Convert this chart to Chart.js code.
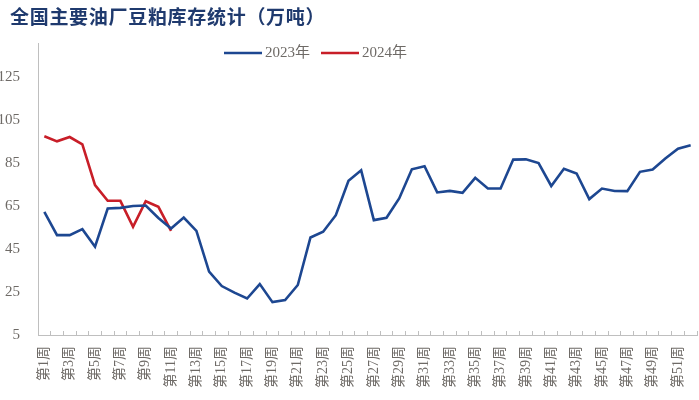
<!DOCTYPE html>
<html>
<head>
<meta charset="utf-8">
<script src="https://cdn.jsdelivr.net/npm/chart.js@4/dist/chart.umd.min.js"></script>
<style>
  body { margin: 0; background: #fff; }
  #wrap { width: 699px; height: 400px; position: relative; }
</style>
</head>
<body>
<div id="wrap"><canvas id="grafico"></canvas></div>
<script>
// Dados (万吨 por semana)
var titulo = '全国主要油厂豆粕库存统计（万吨）'
var semanas = []
for (var i = 1; i <= 52; i++) semanas.push('第' + i + '周')

var serie2023 = [62.3, 51.5, 51.5, 54.3, 46.1, 63.9, 64.2, 65.1, 65.3, 59.5,
                 54.6, 59.7, 53.5, 34.5, 27.8, 24.7, 22.0, 28.7, 20.3, 21.3,
                 28.3, 50.4, 53.1, 60.8, 76.8, 81.7, 58.5, 59.6, 68.6, 82.2,
                 83.6, 71.4, 72.1, 71.2, 78.2, 73.2, 73.2, 86.7, 86.8, 85.1,
                 74.4, 82.4, 80.2, 68.3, 73.2, 72.1, 72.0, 81.0, 82.1, 87.2,
                 91.8, 93.4]
var serie2024 = [97.6, 95.2, 97.2, 93.8, 74.8, 67.5, 67.5, 55.4, 67.3, 64.7, 53.5]
var ticksY = [5, 25, 45, 65, 85, 105, 125]

var corAzul = '#1d4791'
var corVermelho = '#c81e28'
var corTexto = '#6e6a66'
var corEixo = '#bfbfbf'

// Plugin simples para título e legenda
const tituloLegenda = {
    id: 'tituloLegenda',
    afterDraw(chart) {
        const ctx = chart.ctx
        ctx.save()
        ctx.fillStyle = '#1f3a6e'
        ctx.font = "bold 19px 'Noto Sans CJK SC'"
        ctx.letterSpacing = '0.7px'
        ctx.textBaseline = 'middle'
        ctx.textAlign = 'left'
        ctx.fillText(titulo, 10, 17)
        ctx.letterSpacing = '0px'

        var x = 224
        var y = 53
        ctx.font = "15px 'Liberation Serif', 'Noto Sans CJK SC'"
        chart.data.datasets.forEach((ds) => {
            ctx.strokeStyle = ds.borderColor
            ctx.lineWidth = 2.5
            ctx.beginPath()
            ctx.moveTo(x, y)
            ctx.lineTo(x + 38, y)
            ctx.stroke()
            ctx.fillStyle = corTexto
            ctx.fillText(ds.label, x + 41, y)
            x += 41 + ctx.measureText(ds.label).width + 11
        })
        ctx.restore()
    }
}

const ctxLinha = document.getElementById('grafico').getContext('2d')
const grafico = new Chart(ctxLinha, {
    type: 'line',
    data: {
        labels: semanas,
        datasets: [{
            label: '2023年',
            data: serie2023,
            borderColor: corAzul,
            borderWidth: 2.6,
            pointRadius: 0,
            tension: 0
        }, {
            label: '2024年',
            data: serie2024,
            borderColor: corVermelho,
            borderWidth: 2.6,
            pointRadius: 0,
            tension: 0
        }]
    },
    options: {
        responsive: true,
        maintainAspectRatio: false,
        animation: false,
        layout: { padding: { top: 43, left: 0, right: 2, bottom: 0 } },
        plugins: {
            legend: { display: false },
            title: { display: false },
            tooltip: { enabled: false }
        },
        scales: {
            x: {
                offset: true,
                grid: {
                    offset: true,
                    drawOnChartArea: false,
                    drawTicks: true,
                    tickLength: -4,
                    color: corEixo
                },
                border: { color: corEixo, width: 1 },
                ticks: {
                    autoSkip: false,
                    maxRotation: 90,
                    minRotation: 90,
                    padding: 15,
                    color: corTexto,
                    font: { family: "'Liberation Serif', 'Noto Sans CJK SC'", size: 14 },
                    callback: function (valor, indice) {
                        return indice % 2 == 0 ? this.getLabelForValue(valor) : ''
                    }
                },
                afterFit: function (escala) {
                    escala.height = 65
                    escala.paddingLeft = 0
                    escala.paddingRight = 0
                }
            },
            y: {
                min: 5,
                max: 141,
                grid: { display: false },
                border: { color: corEixo, width: 1 },
                ticks: {
                    padding: 10,
                    color: corTexto,
                    font: { family: "'Liberation Serif'", size: 15 }
                },
                afterBuildTicks: function (escala) {
                    escala.ticks = ticksY.map((v) => ({ value: v }))
                },
                afterFit: function (escala) {
                    escala.width = 38
                    escala.paddingTop = 0
                    escala.paddingBottom = 0
                }
            }
        }
    },
    plugins: [tituloLegenda]
})
</script>
</body>
</html>
